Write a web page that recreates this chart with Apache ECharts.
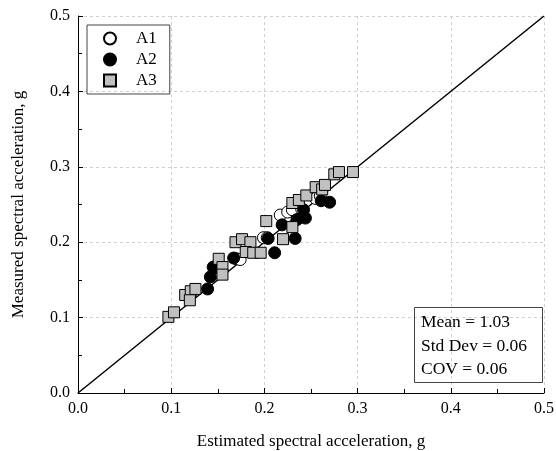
<!DOCTYPE html>
<html>
<head>
<meta charset="utf-8">
<script src="https://cdn.jsdelivr.net/npm/echarts@6/dist/echarts.min.js"></script>
<style>
  html, body { margin: 0; padding: 0; background: #fff; }
  #chart { width: 556px; height: 451px; }
</style>
</head>
<body>
<div id="chart"></div>
<script>
  // estimated vs measured, g
  var a1Data = [
    [0.148, 0.160], [0.170, 0.178], [0.174, 0.177], [0.199, 0.206], [0.203, 0.206],
    [0.217, 0.236], [0.225, 0.240], [0.230, 0.243], [0.240, 0.244], [0.255, 0.258],
    [0.260, 0.261]
  ]
  var a2Data = [
    [0.139, 0.138], [0.142, 0.154], [0.147, 0.166], [0.145, 0.167], [0.167, 0.179],
    [0.204, 0.205], [0.211, 0.186], [0.219, 0.223], [0.233, 0.205], [0.235, 0.230],
    [0.244, 0.232], [0.242, 0.243], [0.261, 0.255], [0.270, 0.253]
  ]
  var a3Data = [
    [0.097, 0.101], [0.103, 0.107], [0.115, 0.130], [0.121, 0.135], [0.126, 0.138],
    [0.120, 0.123], [0.151, 0.178], [0.155, 0.167], [0.155, 0.157], [0.169, 0.200],
    [0.176, 0.204], [0.185, 0.200], [0.180, 0.187], [0.188, 0.186], [0.196, 0.186],
    [0.202, 0.228], [0.220, 0.204], [0.230, 0.220], [0.230, 0.252], [0.237, 0.256],
    [0.245, 0.262], [0.255, 0.273], [0.262, 0.270], [0.265, 0.276], [0.275, 0.290],
    [0.280, 0.293], [0.295, 0.293]
  ]
  var lineData = [[0, 0], [0.5, 0.5]]
  var statsText = ['Mean = 1.03', 'Std Dev = 0.06', 'COV = 0.06']

  var font = 'Liberation Serif'
  var chart = echarts.init(document.getElementById('chart'))

  function valueAxis(name, gap, rotate) {
    return {
      type: 'value',
      min: 0,
      max: 0.5,
      interval: 0.1,
      name: name,
      nameLocation: 'middle',
      nameGap: gap,
      nameRotate: rotate,
      nameTextStyle: { fontFamily: font, fontSize: 17, color: '#000' },
      axisLine: { show: true, onZero: false, lineStyle: { color: '#000', width: 1 } },
      axisTick: { show: true, inside: true, length: 5, lineStyle: { color: '#000' } },
      minorTick: { show: true, splitNumber: 2, length: 4, lineStyle: { color: '#000' } },
      axisLabel: {
        margin: 8,
        fontFamily: font,
        fontSize: 16,
        color: '#000',
        formatter: function (v) { return v.toFixed(1) }
      },
      splitLine: { show: true, lineStyle: { color: '#d0d0d0', type: [3, 3], width: 1 } }
    }
  }

  var xAx = valueAxis('Estimated spectral acceleration, g', 40, 0)
  var yAx = valueAxis('Measured spectral acceleration, g', 51, 90)

  chart.setOption({
    animation: false,
    backgroundColor: '#fff',
    grid: { left: 78, right: 12, top: 16, bottom: 58, containLabel: false, outerBoundsMode: 'none' },
    xAxis: xAx,
    yAxis: yAx,
    title: {
      text: statsText.join('\n'),
      left: 414,
      top: 307,
      borderColor: '#444',
      borderWidth: 1,
      padding: [4, 16, 1, 7],
      textStyle: { fontFamily: font, fontSize: 17.5, fontWeight: 'normal', color: '#000', lineHeight: 23.5 }
    },
    legend: {
      orient: 'vertical',
      left: 87,
      top: 25,
      data: ['A1', 'A2', 'A3'],
      itemWidth: 12,
      itemHeight: 12,
      itemGap: 4,
      padding: [5, 13, 5, 16],
      borderColor: '#444',
      borderWidth: 1,
      textStyle: { fontFamily: font, fontSize: 17, color: '#000', padding: [0, 0, 0, 15] }
    },
    series: [
      {
        type: 'line',
        data: lineData,
        symbol: 'none',
        silent: true,
        lineStyle: { color: '#000', width: 1.5 },
        z: 1
      },
      {
        name: 'A1',
        type: 'scatter',
        data: a1Data,
        symbol: 'circle',
        symbolSize: 12,
        itemStyle: { color: '#fff', borderColor: '#000', borderWidth: 1, opacity: 1 },
        z: 3
      },
      {
        name: 'A2',
        type: 'scatter',
        data: a2Data,
        symbol: 'circle',
        symbolSize: 12,
        itemStyle: { color: '#000', borderColor: '#000', borderWidth: 1, opacity: 1 },
        z: 4
      },
      {
        name: 'A3',
        type: 'scatter',
        data: a3Data,
        symbol: 'rect',
        symbolSize: 11,
        itemStyle: { color: '#c0c0c0', borderColor: '#000', borderWidth: 1, opacity: 1 },
        z: 5
      }
    ]
  })
</script>
</body>
</html>
